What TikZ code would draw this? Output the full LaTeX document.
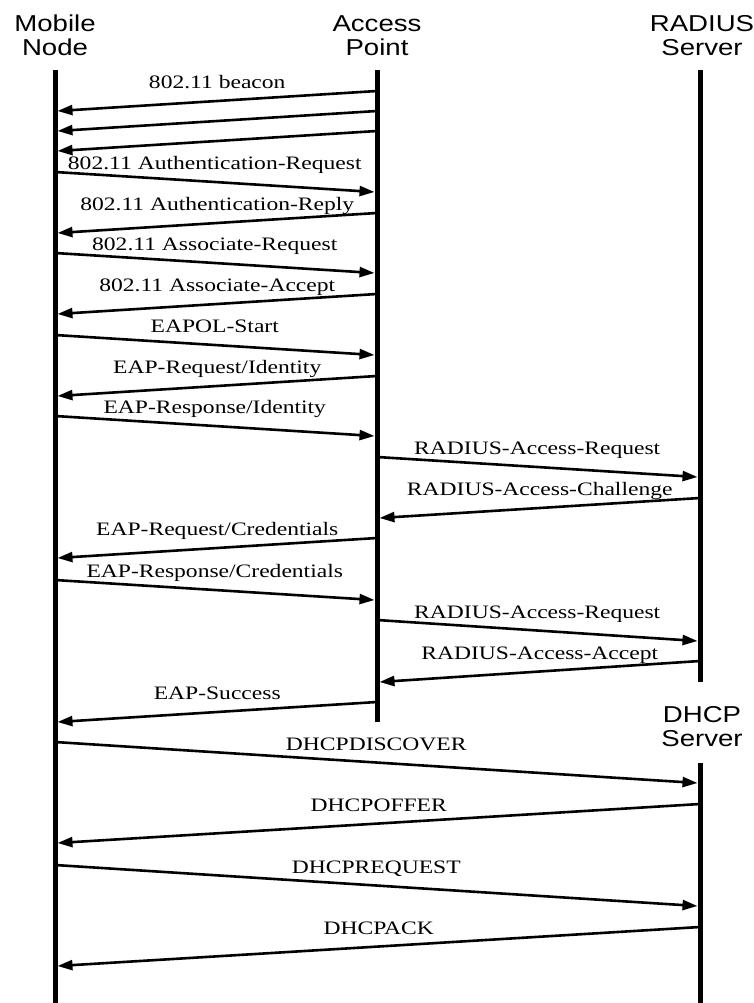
\documentclass[tikz,border=0pt]{standalone}
\usepackage{fontspec}
\usetikzlibrary{arrows.meta}
\newfontfamily\hdfont[FakeStretch=1.2]{Liberation Sans}
\newfontfamily\lbfont[FakeStretch=1.24]{Liberation Serif}

% one message: name, x1, y1, x2, y2, label (set above the middle of the arrow)
\newcommand\sendmsg[6]{%
  \coordinate (#1s) at (#2,#3);
  \coordinate (#1e) at (#4,#5);
  \draw[msg] (#1s) -- (#1e);
  \node[lbl] (#1l) at ({(#2+#4)/2},{(#3+#5)/2-12.5}) {#6};
}

\begin{document}
\begin{tikzpicture}[x=1pt,y=-1pt,
  lifeline/.style={line width=5pt},
  msg/.style={line width=2.6pt,-{Triangle[length=15pt,width=10pt]}},
  lbl/.style={font=\lbfont\fontsize{19}{19}\selectfont,anchor=base,inner sep=0pt},
  hdr/.style={font=\hdfont\fontsize{23}{23}\selectfont,anchor=base,inner sep=0pt}]
\useasboundingbox (0,0) rectangle (754,1003);

% headers
\node[hdr] (mnA) at (55,32) {Mobile};
\node[hdr] (mnB) at (55,56) {Node};
\node[hdr] (apA) at (377,32) {Access};
\node[hdr] (apB) at (377,56) {Point};
\node[hdr] (rsA) at (702,32) {RADIUS};
\node[hdr] (rsB) at (702,56) {Server};
\node[hdr] (dsA) at (702,722) {DHCP};
\node[hdr] (dsB) at (702,746) {Server};

% lifelines
\coordinate (mnTop) at (55,70);   \coordinate (mnBot) at (55,1003);
\coordinate (apTop) at (377,70);  \coordinate (apBot) at (377,722);
\coordinate (rsTop) at (700,70);  \coordinate (rsBot) at (700,682);
\coordinate (dsTop) at (700,763); \coordinate (dsBot) at (700,1003);
\draw[lifeline] (mnTop) -- (mnBot);
\draw[lifeline] (apTop) -- (apBot);
\draw[lifeline] (rsTop) -- (rsBot);
\draw[lifeline] (dsTop) -- (dsBot);

% association
\sendmsg{m1}{377}{91}{57.5}{111}{802.11 beacon}
\sendmsg{m2}{377}{111}{57.5}{131}{}
\sendmsg{m3}{377}{131}{57.5}{151}{}
\sendmsg{m4}{55}{172}{374.5}{192}{802.11 Authentication-Request}
\sendmsg{m5}{377}{213}{57.5}{233}{802.11 Authentication-Reply}
\sendmsg{m6}{55}{253}{374.5}{273}{802.11 Associate-Request}
\sendmsg{m7}{377}{294}{57.5}{314}{802.11 Associate-Accept}

% EAP authentication
\sendmsg{m8}{55}{335}{374.5}{355}{EAPOL-Start}
\sendmsg{m9}{377}{376}{57.5}{396}{EAP-Request/Identity}
\sendmsg{m10}{55}{416}{374.5}{436}{EAP-Response/Identity}
\sendmsg{m11}{377}{457}{697.5}{477}{RADIUS-Access-Request}
\sendmsg{m12}{700}{498}{379.5}{518}{RADIUS-Access-Challenge}
\sendmsg{m13}{377}{538}{57.5}{558}{EAP-Request/Credentials}
\sendmsg{m14}{55}{580}{374.5}{600}{EAP-Response/Credentials}
\sendmsg{m15}{377}{620}{697.5}{641}{RADIUS-Access-Request}
\sendmsg{m16}{700}{661}{379.5}{682}{RADIUS-Access-Accept}
\sendmsg{m17}{377}{702}{57.5}{722}{EAP-Success}

% DHCP
\sendmsg{m18}{55}{742}{697.5}{783}{DHCPDISCOVER}
\sendmsg{m19}{700}{804}{57.5}{843}{DHCPOFFER}
\sendmsg{m20}{55}{865}{697.5}{906}{DHCPREQUEST}
\sendmsg{m21}{700}{927}{57.5}{966}{DHCPACK}
\end{tikzpicture}
\end{document}
